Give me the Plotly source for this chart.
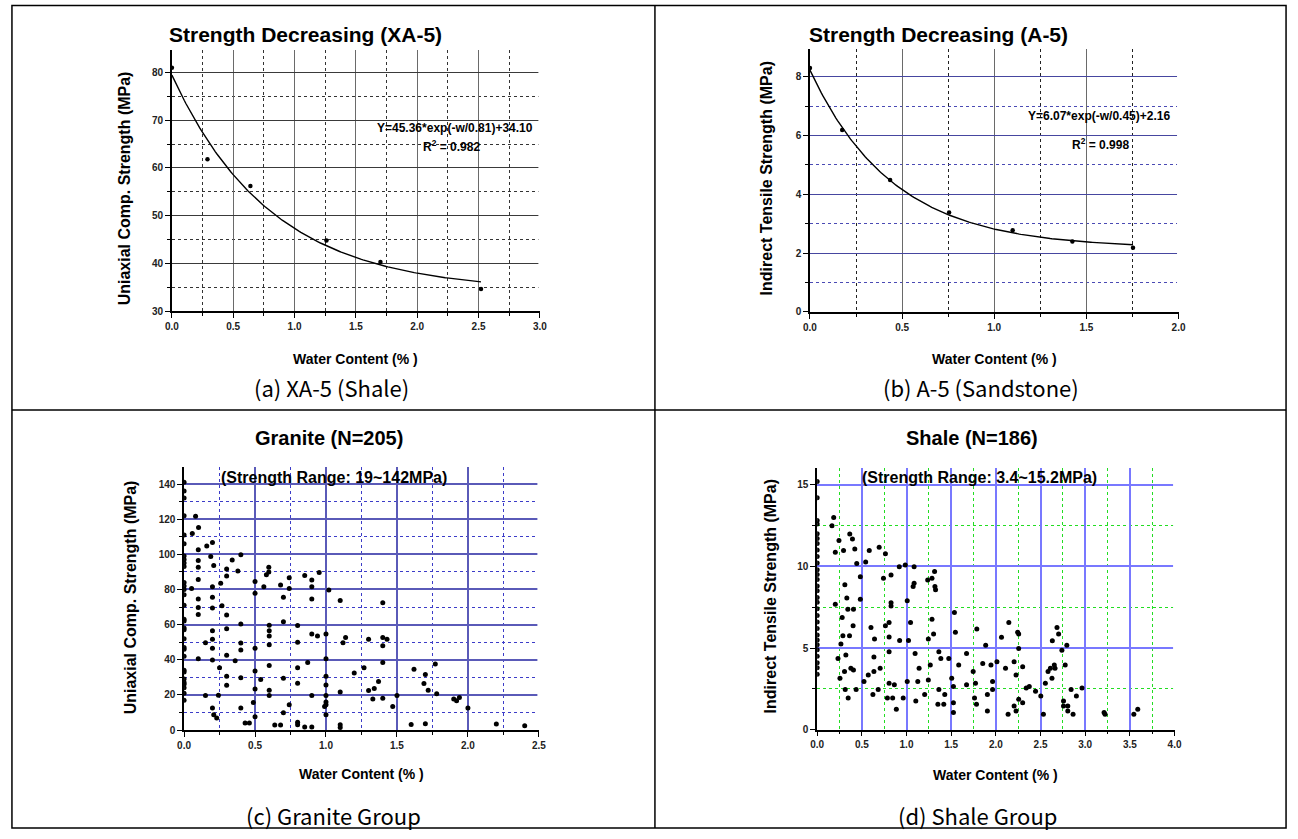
import numpy as np
import plotly.graph_objects as go

W, H = 1298, 839
SANS = "Liberation Sans, Arial, sans-serif"
CAP = "Noto Sans CJK KR, Liberation Sans, sans-serif"

# ---------------- data ----------------
# (a) XA-5 shale: uniaxial compressive strength vs water content
xa5_water = [0.0, 0.29, 0.64, 1.26, 1.70, 2.52]
xa5_ucs = [81.0, 61.8, 56.2, 44.8, 40.3, 34.6]
xa5_fit = [45.36, 0.81, 34.10]          # A, t, y0 in Y = A*exp(-w/t) + y0
xa5_r2 = "0.982"

# (b) A-5 sandstone: indirect tensile strength vs water content
a5_water = [0.0, 0.175, 0.435, 0.755, 1.10, 1.424, 1.753]
a5_its = [8.30, 6.19, 4.49, 3.38, 2.78, 2.39, 2.18]
a5_fit = [6.07, 0.45, 2.16]
a5_r2 = "0.998"

# (c) granite group
granite_water = [
    0.0, 0.0, 0.0, 0.0, 0.0, 0.0, 0.0, 0.0, 0.0, 0.0, 0.0, 0.0, 0.0, 0.0, 0.0, 0.0,
    0.0, 0.0, 0.0, 0.0, 0.0, 0.0, 0.0, 0.0, 0.0, 0.0, 0.0, 0.0, 0.0, 0.0, 0.0,
    0.081, 0.102, 0.058, 0.20, 0.16, 0.10, 0.188, 0.40, 0.10, 0.339, 0.209, 0.10,
    0.30, 0.379, 0.30, 0.10, 0.258, 0.20, 0.053, 0.20, 0.10, 0.267, 0.10, 0.20,
    0.10, 0.30, 0.40, 0.30, 0.20, 0.20, 0.151, 0.40, 0.20, 0.40, 0.30, 0.10,
    0.20, 0.36, 0.25, 0.30, 0.40, 0.30, 0.151, 0.242, 0.20, 0.40, 0.209, 0.23,
    0.43, 0.46, 0.50, 0.50, 0.50, 0.50, 0.50, 0.488, 0.50, 0.54, 0.562, 0.58,
    0.597, 0.597, 0.60, 0.60, 0.60, 0.60, 0.60, 0.60, 0.60, 0.639, 0.68, 0.68,
    0.70, 0.70, 0.70, 0.70, 0.741, 0.741, 0.741, 0.80, 0.80, 0.80, 0.80, 0.80,
    0.80, 0.85, 0.85, 0.871, 0.90, 0.90, 0.90, 0.90, 0.90, 0.90, 0.94, 0.952,
    1.00, 1.00, 1.00, 1.00, 1.00, 1.00, 1.00, 0.99, 1.00, 1.02, 1.10, 1.10,
    1.10, 1.10, 1.12, 1.138, 1.199, 1.268, 1.30, 1.30, 1.33, 1.34, 1.37, 1.40,
    1.40, 1.40, 1.40, 1.40, 1.43, 1.47, 1.50, 1.60, 1.62, 1.69, 1.70, 1.70,
    1.72, 1.77, 1.78, 1.90, 1.92, 1.94, 2.00, 2.20, 2.40,
]
granite_ucs = [
    141, 136, 132, 122, 111, 106, 99, 97, 95, 93, 84, 82, 80, 77, 71, 63,
    62, 58, 57, 52, 47, 46, 42, 34, 33, 29, 27, 26, 24, 21, 17,
    121.7, 115.2, 111.8, 106.7, 104.7, 102.6, 98.8, 99.8, 96.5, 96.7, 93.7, 92.6,
    91.6, 90.5, 87.7, 85.6, 83.5, 81.6, 80.5, 75.6, 74.6, 70.7, 69.7, 69.5,
    65.7, 65.4, 60.3, 57.6, 56.5, 51.6, 49.7, 49.5, 46.5, 45.5, 42.5, 40.6,
    39.9, 39.5, 35.5, 30.6, 29.7, 25.5, 19.6, 19.8, 12.5, 12.5, 8.7, 6.8,
    4.0, 4.0, 84.6, 77.8, 46.5, 33.6, 23.4, 15.7, 7.6, 28.7, 81.6, 88.4,
    89.9, 92.6, 59.7, 56.5, 53.5, 48.6, 36.7, 22.7, 19.6, 2.8, 2.8, 82.6,
    75.6, 61.6, 29.5, 9.8, 86.7, 80.5, 14.4, 59.5, 49.9, 35.5, 26.6, 4.5,
    3.0, 87.9, 1.7, 38.4, 85.4, 81.6, 74.6, 54.6, 19.6, 1.7, 53.5, 89.7,
    54.6, 40.6, 30.6, 25.7, 19.6, 15.9, 14.4, 13.4, 8.7, 79.7, 73.7, 21.7,
    3.0, 1.5, 49.7, 52.7, 32.5, 35.5, 51.6, 22.5, 17.6, 23.6, 27.6, 72.5,
    52.7, 48.0, 38.5, 18.1, 51.6, 13.4, 19.6, 3.2, 34.6, 26.5, 31.6, 3.6,
    22.7, 37.6, 20.6, 17.6, 16.6, 18.5, 12.5, 3.4, 2.5,
]

# (d) shale group
shale_water = [
    0.0, 0.0, 0.0, 0.0, 0.0, 0.0, 0.0, 0.0, 0.0, 0.0, 0.0, 0.0, 0.0, 0.0, 0.0,
    0.0, 0.0, 0.0, 0.0, 0.0, 0.0, 0.0, 0.0, 0.0, 0.0, 0.0, 0.0, 0.0, 0.0,
    0.166, 0.185, 0.244, 0.203, 0.295, 0.365, 0.395, 0.421, 0.443, 0.483, 0.483,
    0.31, 0.332, 0.343, 0.406, 0.402, 0.362, 0.203, 0.28, 0.288, 0.266, 0.233,
    0.321, 0.255, 0.306, 0.314, 0.347, 0.377, 0.406, 0.436, 0.543, 0.583, 0.694,
    0.764, 0.742, 0.827, 0.827, 0.827, 0.764, 0.805, 0.805, 0.805, 0.602, 0.642,
    0.635, 0.635, 0.572, 0.524, 0.705, 0.624, 0.683, 0.786, 0.805, 0.845, 0.864,
    0.886, 0.919, 0.986, 1.085, 0.923, 0.963, 1.008, 1.022, 1.008, 1.045, 1.074,
    1.085, 1.096, 1.104, 1.126, 1.141, 1.203, 1.237, 1.244, 1.244, 1.266, 1.285,
    1.285, 1.303, 1.314, 1.318, 1.325, 1.362, 1.362, 1.351, 1.384, 1.417, 1.428,
    1.473, 1.506, 1.525, 1.525, 1.525, 1.536, 1.547, 1.584, 1.672, 1.672, 1.746,
    1.761, 1.772, 1.783, 1.787, 1.853, 1.886, 1.905, 1.905, 1.945, 1.963, 1.963,
    2.012, 2.063, 2.108, 2.137, 2.145, 2.204, 2.204, 2.226, 2.226, 2.244, 2.255,
    2.255, 2.255, 2.30, 2.30, 2.34, 2.374, 2.444, 2.503, 2.532, 2.554, 2.584,
    2.61, 2.628, 2.632, 2.654, 2.662, 2.684, 2.702, 2.739, 2.757, 2.757, 2.776,
    2.794, 2.805, 2.805, 2.842, 2.864, 2.901, 2.964, 3.211, 3.222, 3.544, 3.588,
]
shale_its = [
    15.2, 14.2, 12.8, 12.6, 12.0, 11.7, 11.4, 11.0, 10.6, 10.2, 9.8, 9.5, 9.2, 8.8, 8.5,
    8.1, 7.8, 7.4, 7.0, 6.6, 6.2, 5.8, 5.5, 5.2, 4.9, 4.5, 4.1, 3.8, 3.4,
    12.48, 12.99, 11.58, 10.87, 10.97, 11.98, 11.68, 11.07, 10.18, 9.37, 7.98,
    8.87, 8.06, 7.37, 7.37, 6.36, 5.76, 7.68, 6.87, 5.76, 5.25, 4.36,
    4.57, 3.15, 3.56, 2.46, 1.94, 3.76, 3.66, 2.46, 10.26, 10.97, 11.17,
    10.77, 9.27, 9.47, 7.78, 7.58, 6.36, 6.57, 5.68, 4.77, 6.26, 5.56,
    4.46, 3.56, 3.35, 2.95, 3.76, 2.16, 2.46, 1.94, 2.85, 1.94, 2.75,
    1.25, 9.98, 10.08, 9.98, 5.47, 1.94, 7.90, 5.47, 2.95, 6.57, 8.77,
    8.97, 4.67, 1.76, 2.95, 3.76, 2.16, 9.17, 5.56, 3.05, 3.96, 9.27,
    6.77, 5.86, 9.68, 8.77, 8.57, 4.77, 2.46, 1.56, 4.36, 1.56, 2.16,
    4.36, 3.15, 2.65, 1.66, 1.05, 7.17, 5.96, 3.96, 4.67, 2.75, 3.56,
    1.94, 2.85, 1.56, 6.16, 4.06, 5.17, 2.16, 1.15, 3.96, 2.95, 2.46,
    4.16, 5.66, 3.76, 0.95, 6.57, 4.16, 1.45, 3.35, 1.15, 5.96, 5.86,
    4.97, 1.86, 3.86, 1.66, 2.55, 2.65, 2.36, 2.06, 0.95, 2.85, 3.56,
    3.76, 3.15, 5.45, 3.96, 3.76, 6.26, 5.86, 4.87, 1.76, 1.45, 3.96,
    5.17, 1.45, 1.15, 2.46, 0.95, 2.06, 2.55, 1.05, 0.95, 0.95, 1.25,
]

# ---------------- helpers ----------------
def px_x(x):
    return x / W


def px_y(y):
    return 1 - y / H


def dom(x0, x1, y0, y1):
    return [px_x(x0), px_x(x1)], [px_y(y1), px_y(y0)]


def fit_curve(params, w_max, n=200):
    a, t, y0 = params
    w = np.linspace(0, w_max, n)
    return w, a * np.exp(-w / t) + y0


tick_font = dict(family=SANS, size=10, color="#222", weight="bold")


def axis_common(rng, dtick, minor_dtick, grid, grid_w, mgrid, mdash="dot", fmt=None):
    d = dict(
        range=rng, dtick=dtick, tick0=0, showgrid=True, gridcolor=grid, gridwidth=grid_w,
        zeroline=False, showline=True, linecolor="black", linewidth=1.5,
        ticks="outside", ticklen=5, tickwidth=1, tickcolor="black",
        tickfont=tick_font,
        minor=dict(dtick=minor_dtick, tick0=0, ticks="outside", ticklen=3, tickcolor="black",
                   showgrid=True, gridcolor=mgrid, griddash=mdash, gridwidth=1),
    )
    if fmt:
        d["tickformat"] = fmt
    return d


fig = go.Figure()

# ---------------- traces ----------------
wa, ya = fit_curve(xa5_fit, xa5_water[-1])
fig.add_trace(go.Scatter(x=wa, y=ya, mode="lines", line=dict(color="black", width=1.4),
                         xaxis="x", yaxis="y", showlegend=False))
fig.add_trace(go.Scatter(x=xa5_water, y=xa5_ucs, mode="markers",
                         marker=dict(color="black", size=4.5), xaxis="x", yaxis="y",
                         showlegend=False))

wb, yb = fit_curve(a5_fit, a5_water[-1])
fig.add_trace(go.Scatter(x=wb, y=yb, mode="lines", line=dict(color="black", width=1.4),
                         xaxis="x2", yaxis="y2", showlegend=False))
fig.add_trace(go.Scatter(x=a5_water, y=a5_its, mode="markers",
                         marker=dict(color="black", size=4.5), xaxis="x2", yaxis="y2",
                         showlegend=False))

fig.add_trace(go.Scatter(x=granite_water, y=granite_ucs, mode="markers",
                         marker=dict(color="black", size=5), xaxis="x3", yaxis="y3",
                         showlegend=False))
fig.add_trace(go.Scatter(x=shale_water, y=shale_its, mode="markers",
                         marker=dict(color="black", size=5), xaxis="x4", yaxis="y4",
                         showlegend=False))

# ---------------- axes ----------------
xd1, yd1 = dom(166.7, 538.7, 50, 313.3)
xd2, yd2 = dom(811.7, 1184.3, 49.3, 314)
xd3, yd3 = dom(179, 537.7, 470.7, 735.3)
xd4, yd4 = dom(819, 1180.3, 471.7, 735)

x1 = axis_common([0, 3.0], 0.5, 0.25, "#6a6a6a", 1, "#333", fmt=".1f")
y1 = axis_common([30, 84.8], 10, 5, "#3a3a3a", 1, "#333")
x2 = axis_common([0, 2.0], 0.5, 0.25, "#6a6a6a", 1, "#222", fmt=".1f")
y2 = axis_common([0, 8.95], 2, 1, "#4646a0", 1, "#4a4ab4")
x3 = axis_common([0, 2.5], 0.5, 0.25, "#5a5ab8", 1.5, "#3c3cc8", fmt=".1f")
y3 = axis_common([0, 149.5], 20, 10, "#5a5ab8", 1.5, "#3c3cc8")
x4 = axis_common([0, 4.0], 0.5, 0.25, "#7878ff", 1.5, "#22dd22", fmt=".1f")
y4 = axis_common([0, 16], 5, 2.5, "#7878ff", 1.5, "#22dd22")

fig.update_layout(
    width=W, height=H, margin=dict(l=0, r=0, t=0, b=0),
    paper_bgcolor="white", plot_bgcolor="white",
    xaxis=dict(domain=xd1, anchor="y", **x1),
    yaxis=dict(domain=yd1, anchor="x", **y1),
    xaxis2=dict(domain=xd2, anchor="y2", **x2),
    yaxis2=dict(domain=yd2, anchor="x2", **y2),
    xaxis3=dict(domain=xd3, anchor="y3", **x3),
    yaxis3=dict(domain=yd3, anchor="x3", **y3),
    xaxis4=dict(domain=xd4, anchor="y4", **x4),
    yaxis4=dict(domain=yd4, anchor="x4", **y4),
)

# the right edge of each plot area carries no vertical grid line
for xa, ya_ in (("x", "y"), ("x2", "y2"), ("x3", "y3"), ("x4", "y4")):
    fig.add_shape(type="line", xref=xa + " domain", yref=ya_ + " domain",
                  x0=1, x1=1, y0=0.012, y1=1, line=dict(color="white", width=3),
                  layer="above")

# ---------------- text ----------------
def label(text, x, y, size, bold=True, family=SANS, xanchor="center", angle=0, color="black"):
    fig.add_annotation(
        text=text, x=px_x(x), y=px_y(y), xref="paper", yref="paper",
        xanchor=xanchor, yanchor="middle", showarrow=False, textangle=angle,
        font=dict(family=family, size=size, color=color, weight="bold" if bold else "normal"),
    )


# panel titles
label("Strength Decreasing (XA-5)", 162, 35, 21, xanchor="left")
label("Strength Decreasing (A-5)", 809, 35, 21, xanchor="left")
label("Granite (N=205)", 326, 441, 20)
label("Shale (N=186)", 976, 441, 20)

# fit equations
label("Y=%.2f*exp(-w/%.2f)+%.2f" % tuple(xa5_fit), 453, 129, 12)
label("R<sup>2</sup> = " + xa5_r2, 449, 147, 12)
label("Y=%.2f*exp(-w/%.2f)+%.2f" % tuple(a5_fit), 1104, 117, 12)
label("R<sup>2</sup> = " + a5_r2, 1105, 145, 12)

# strength ranges
label("(Strength Range: 19~142MPa)", 331, 481, 16)
label("(Strength Range: 3.4~15.2MPa)", 983, 481, 16)

# axis titles
label("Uniaxial Comp. Strength (MPa)", 119, 190, 16, angle=-90)
label("Indirect Tensile Strength (MPa)", 768, 180, 16, angle=-90)
label("Uniaxial Comp. Strength (MPa)", 125, 602, 16, angle=-90)
label("Indirect Tensile Strength (MPa)", 772, 601, 16, angle=-90)
label("Water Content (% )", 352, 362, 14)
label("Water Content (% )", 998, 362, 14)
label("Water Content (% )", 358, 780, 14)
label("Water Content (% )", 999, 781, 14)

# captions
label("(a) XA-5 (Shale)", 328, 390, 22, bold=False, family=CAP)
label("(b) A-5 (Sandstone)", 985, 390, 22, bold=False, family=CAP)
label("(c) Granite Group", 330, 821, 22, bold=False, family=CAP)
label("(d) Shale Group", 981, 821, 22, bold=False, family=CAP)

# ---------------- frame ----------------
frame = dict(type="line", xref="paper", yref="paper", line=dict(color="black", width=1.5))
fig.add_shape(type="rect", xref="paper", yref="paper",
              x0=px_x(5), x1=px_x(1293), y0=px_y(834), y1=px_y(5.5),
              line=dict(color="black", width=1.5))
fig.add_shape(x0=px_x(655), x1=px_x(655), y0=px_y(5.5), y1=px_y(834), **frame)
fig.add_shape(x0=px_x(5), x1=px_x(1293), y0=px_y(413), y1=px_y(413), **frame)

fig.write_html("out.html")
